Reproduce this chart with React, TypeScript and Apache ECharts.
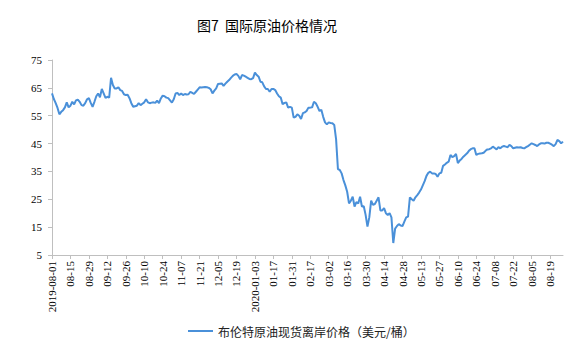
import React, { useEffect, useRef } from "react";
import * as echarts from "echarts";

const titleText = "图7  国际原油价格情况";
const seriesName = "布伦特原油现货离岸价格（美元/桶）";

// trading calendar: weekdays from 2019-08-01 to 2020-08-28, minus market holidays
const startDate = "2019-08-01";
const endDate = "2020-08-28";
const holidays = ["2019-12-25", "2020-02-14", "2020-04-10", "2020-05-08"];

const yTicks = { min: 5, max: 75, interval: 10 };

const aug2019 = [63.0, 61.0, 59.5, 57.8, 55.5, 56.4, 57.0, 58.0, 59.8, 58.0, 58.6, 60.0, 59.1, 60.5, 60.8, 60.0, 58.8, 58.6, 59.5, 60.9, 61.3, 59.6];
const sep2019 = [58.2, 60.0, 62.0, 63.0, 61.6, 64.6, 63.0, 61.4, 61.8, 61.5, 68.6, 66.0, 64.8, 64.8, 65.2, 64.2, 63.9, 62.7, 62.4, 62.5, 61.3];
const oct2019 = [59.5, 58.2, 58.4, 58.6, 59.5, 58.8, 59.3, 59.8, 60.9, 59.8, 59.5, 59.7, 59.8, 59.6, 60.4, 59.5, 61.2, 62.2, 62.0, 61.5, 61.3, 60.5, 59.7];
const nov2019 = [60.9, 63.0, 63.2, 62.4, 63.0, 62.4, 62.8, 62.6, 62.7, 63.6, 63.2, 62.8, 63.6, 64.4, 65.2, 65.1, 65.2, 65.3, 65.2, 65.0, 64.5];
const dec2019 = [63.0, 64.0, 64.8, 66.4, 66.5, 66.6, 65.7, 66.5, 67.2, 67.8, 68.6, 69.3, 69.8, 70.0, 69.3, 68.1, 69.6, 69.4, 69.0, 68.6, 68.2];
const jan2020 = [68.1, 68.5, 70.5, 69.6, 69.0, 67.2, 67.0, 65.5, 64.6, 64.6, 63.6, 64.6, 64.6, 64.2, 63.0, 62.0, 61.5, 59.1, 59.6, 59.8, 57.9, 58.2, 57.9];
const feb2020 = [54.3, 54.6, 55.5, 55.0, 53.8, 55.9, 56.2, 56.7, 57.9, 57.9, 58.0, 60.0, 59.5, 58.2, 56.7, 57.1, 54.6, 52.6, 51.9];
const mar2020 = [52.6, 52.4, 52.3, 51.7, 46.5, 35.8, 35.5, 34.3, 31.9, 30.0, 27.7, 23.5, 24.5, 25.9, 22.4, 24.0, 23.5, 25.9, 22.4, 22.5, 19.4, 15.2];
const apr2020 = [18.5, 24.5, 23.0, 23.3, 24.5, 25.7, 21.0, 21.0, 21.8, 20.0, 19.4, 20.0, 18.5, 9.3, 14.5, 15.4, 16.1, 15.6, 15.4, 17.0, 18.5];
const may2020 = [18.8, 25.7, 25.0, 24.5, 25.7, 26.5, 27.4, 28.5, 30.0, 31.5, 33.4, 34.5, 34.9, 34.3, 34.3, 34.1, 33.1, 34.3, 34.5, 37.0];
const jun2020 = [37.5, 38.1, 38.5, 40.9, 40.1, 40.5, 41.3, 38.0, 38.9, 39.5, 40.3, 40.9, 41.5, 42.4, 43.0, 43.3, 43.3, 40.9, 41.3, 41.4, 41.5, 41.7];
const jul2020 = [42.4, 42.9, 43.0, 43.3, 43.9, 43.4, 42.9, 43.7, 43.3, 43.9, 44.1, 43.9, 43.7, 44.5, 44.1, 43.3, 43.5, 43.7, 43.6, 43.7, 43.4, 43.3, 43.7];
const aug2020 = [44.1, 44.6, 45.1, 44.8, 44.5, 44.1, 44.7, 45.1, 45.1, 45.0, 45.3, 45.3, 45.0, 44.6, 44.1, 44.8, 46.3, 45.9, 45.1, 45.7];

const prices = [
  ...aug2019, ...sep2019, ...oct2019, ...nov2019, ...dec2019, ...jan2020, ...feb2020,
  ...mar2020, ...apr2020, ...may2020, ...jun2020, ...jul2020, ...aug2020,
];

function tradingDays(start: string, end: string, skip: string[]): string[] {
  const out: string[] = [];
  const d = new Date(start + "T00:00:00Z");
  const e = new Date(end + "T00:00:00Z");
  while (d.getTime() <= e.getTime()) {
    const wd = d.getUTCDay();
    const s = d.toISOString().slice(0, 10);
    if (wd !== 0 && wd !== 6 && skip.indexOf(s) < 0) out.push(s);
    d.setUTCDate(d.getUTCDate() + 1);
  }
  return out;
}

const categories = tradingDays(startDate, endDate, holidays);

const LINE_COLOR = "#4a90d9";
const AXIS_COLOR = "#bfbfbf";
const SERIF = "'Liberation Serif', 'Times New Roman', serif";
const CJK = "'Noto Sans CJK SC', sans-serif";

export default function App() {
  const ref = useRef<HTMLDivElement>(null);
  useEffect(() => {
    if (!ref.current) return;
    const chart = echarts.init(ref.current, undefined, { renderer: "svg" });
    chart.setOption({
      animation: false,
      backgroundColor: "#ffffff",
      title: {
        text: titleText,
        left: 192,
        top: 13,
        textStyle: { fontFamily: CJK, fontSize: 14, fontWeight: "normal", color: "#000" },
      },
      legend: {
        data: [seriesName],
        left: 183,
        top: 320,
        icon: "rect",
        itemWidth: 25,
        itemHeight: 2,
        itemGap: 10,
        textStyle: { fontFamily: CJK, fontSize: 12, color: "#222" },
      },
      grid: { left: 52, right: 13, top: 60, bottom: 97, containLabel: false },
      xAxis: {
        type: "category",
        data: categories,
        boundaryGap: false,
        axisLine: { lineStyle: { color: AXIS_COLOR, width: 1 } },
        axisTick: { interval: 9, length: 4, lineStyle: { color: AXIS_COLOR } },
        axisLabel: {
          interval: 9,
          rotate: 90,
          margin: 6,
          fontFamily: SERIF,
          fontSize: 11,
          color: "#000",
          formatter: (v: string, i: number) => {
            if (i === 0) return v;
            const prev = categories[i - 10];
            if (prev && prev.slice(0, 4) !== v.slice(0, 4)) return v;
            return v.slice(5);
          },
        },
        splitLine: { show: false },
      },
      yAxis: {
        type: "value",
        min: yTicks.min,
        max: yTicks.max,
        interval: yTicks.interval,
        axisLine: { show: true, lineStyle: { color: AXIS_COLOR, width: 1 } },
        axisTick: { show: true, length: 4, lineStyle: { color: AXIS_COLOR } },
        axisLabel: { fontFamily: SERIF, fontSize: 11, color: "#000", margin: 10 },
        splitLine: { show: false },
      },
      series: [
        {
          name: seriesName,
          type: "line",
          data: prices,
          symbol: "none",
          lineStyle: { color: LINE_COLOR, width: 2 },
          itemStyle: { color: LINE_COLOR },
        },
      ],
    });
    return () => chart.dispose();
  }, []);
  return (
    <div
      ref={ref}
      style={{ position: "fixed", left: 0, top: 0, width: 576, height: 352, background: "#fff" }}
    />
  );
}
